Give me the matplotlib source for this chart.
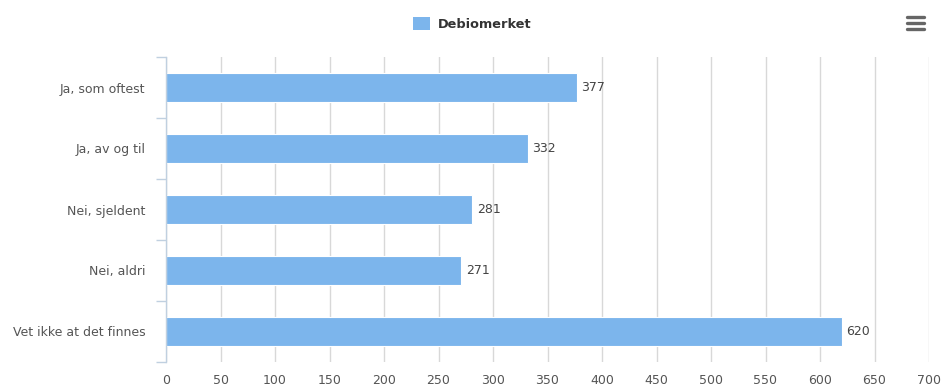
import matplotlib
matplotlib.use("Agg")
import matplotlib.pyplot as plt
from matplotlib.lines import Line2D
from matplotlib.patches import Rectangle
import numpy as np

categories = ["Ja, som oftest", "Ja, av og til", "Nei, sjeldent", "Nei, aldri", "Vet ikke at det finnes"]
values = [377, 332, 281, 271, 620]
series_name = "Debiomerket"
xticks = list(range(0, 701, 50))

W, H = 941, 387
fig = plt.figure(figsize=(W / 100, H / 100), dpi=100)
fig.patch.set_facecolor("white")

left, right, top, bottom = 166, 929, 57, 362
ax = fig.add_axes([left / W, 1 - bottom / H, (right - left) / W, (bottom - top) / H])

bar_color = "#7CB5EC"
y = np.arange(len(categories))
ax.barh(y, values, height=0.47, color=bar_color, edgecolor="white", linewidth=0.8, zorder=3)

for yi, v in zip(y, values):
    ax.text(v + 4, yi, str(v), va="center", ha="left", fontsize=9, color="#444444", zorder=4)

ax.set_xlim(0, 700)
ax.set_ylim(len(categories) - 0.5, -0.5)
ax.set_xticks(xticks)
ax.set_xticklabels([str(t) for t in xticks], fontsize=9, color="#555555")
ax.grid(axis="x", color="#D8D8D8", linewidth=1, zorder=0)
ax.tick_params(axis="x", length=0, pad=9)

ax.set_yticks(y)
ax.set_yticklabels(categories, fontsize=9, color="#555555")
ax.set_yticks(np.arange(-0.5, len(categories), 1), minor=True)
ax.tick_params(axis="y", which="major", length=0, pad=15)
ax.tick_params(axis="y", which="minor", length=7, width=1, color="#C0D0E0")

for s in ["top", "right", "bottom"]:
    ax.spines[s].set_visible(False)
ax.spines["left"].set_color("#C0D0E0")
ax.spines["left"].set_linewidth(1)
ax.spines["left"].set_zorder(5)

# legend
fig.add_artist(Rectangle((413 / W, 1 - 30 / H), 17 / W, 13 / H, transform=fig.transFigure,
                         facecolor=bar_color, edgecolor="none"))
fig.text(438 / W, 1 - 24 / H, series_name, fontsize=9.3, fontweight="bold", color="#333333",
         va="center", ha="left")

# menu icon
for yy in (17, 23, 29):
    fig.add_artist(Line2D([907 / W, 924 / W], [1 - yy / H, 1 - yy / H], transform=fig.transFigure,
                          color="#666666", linewidth=2.4, solid_capstyle="round"))

fig.savefig("out.png", dpi=100, facecolor="white")
